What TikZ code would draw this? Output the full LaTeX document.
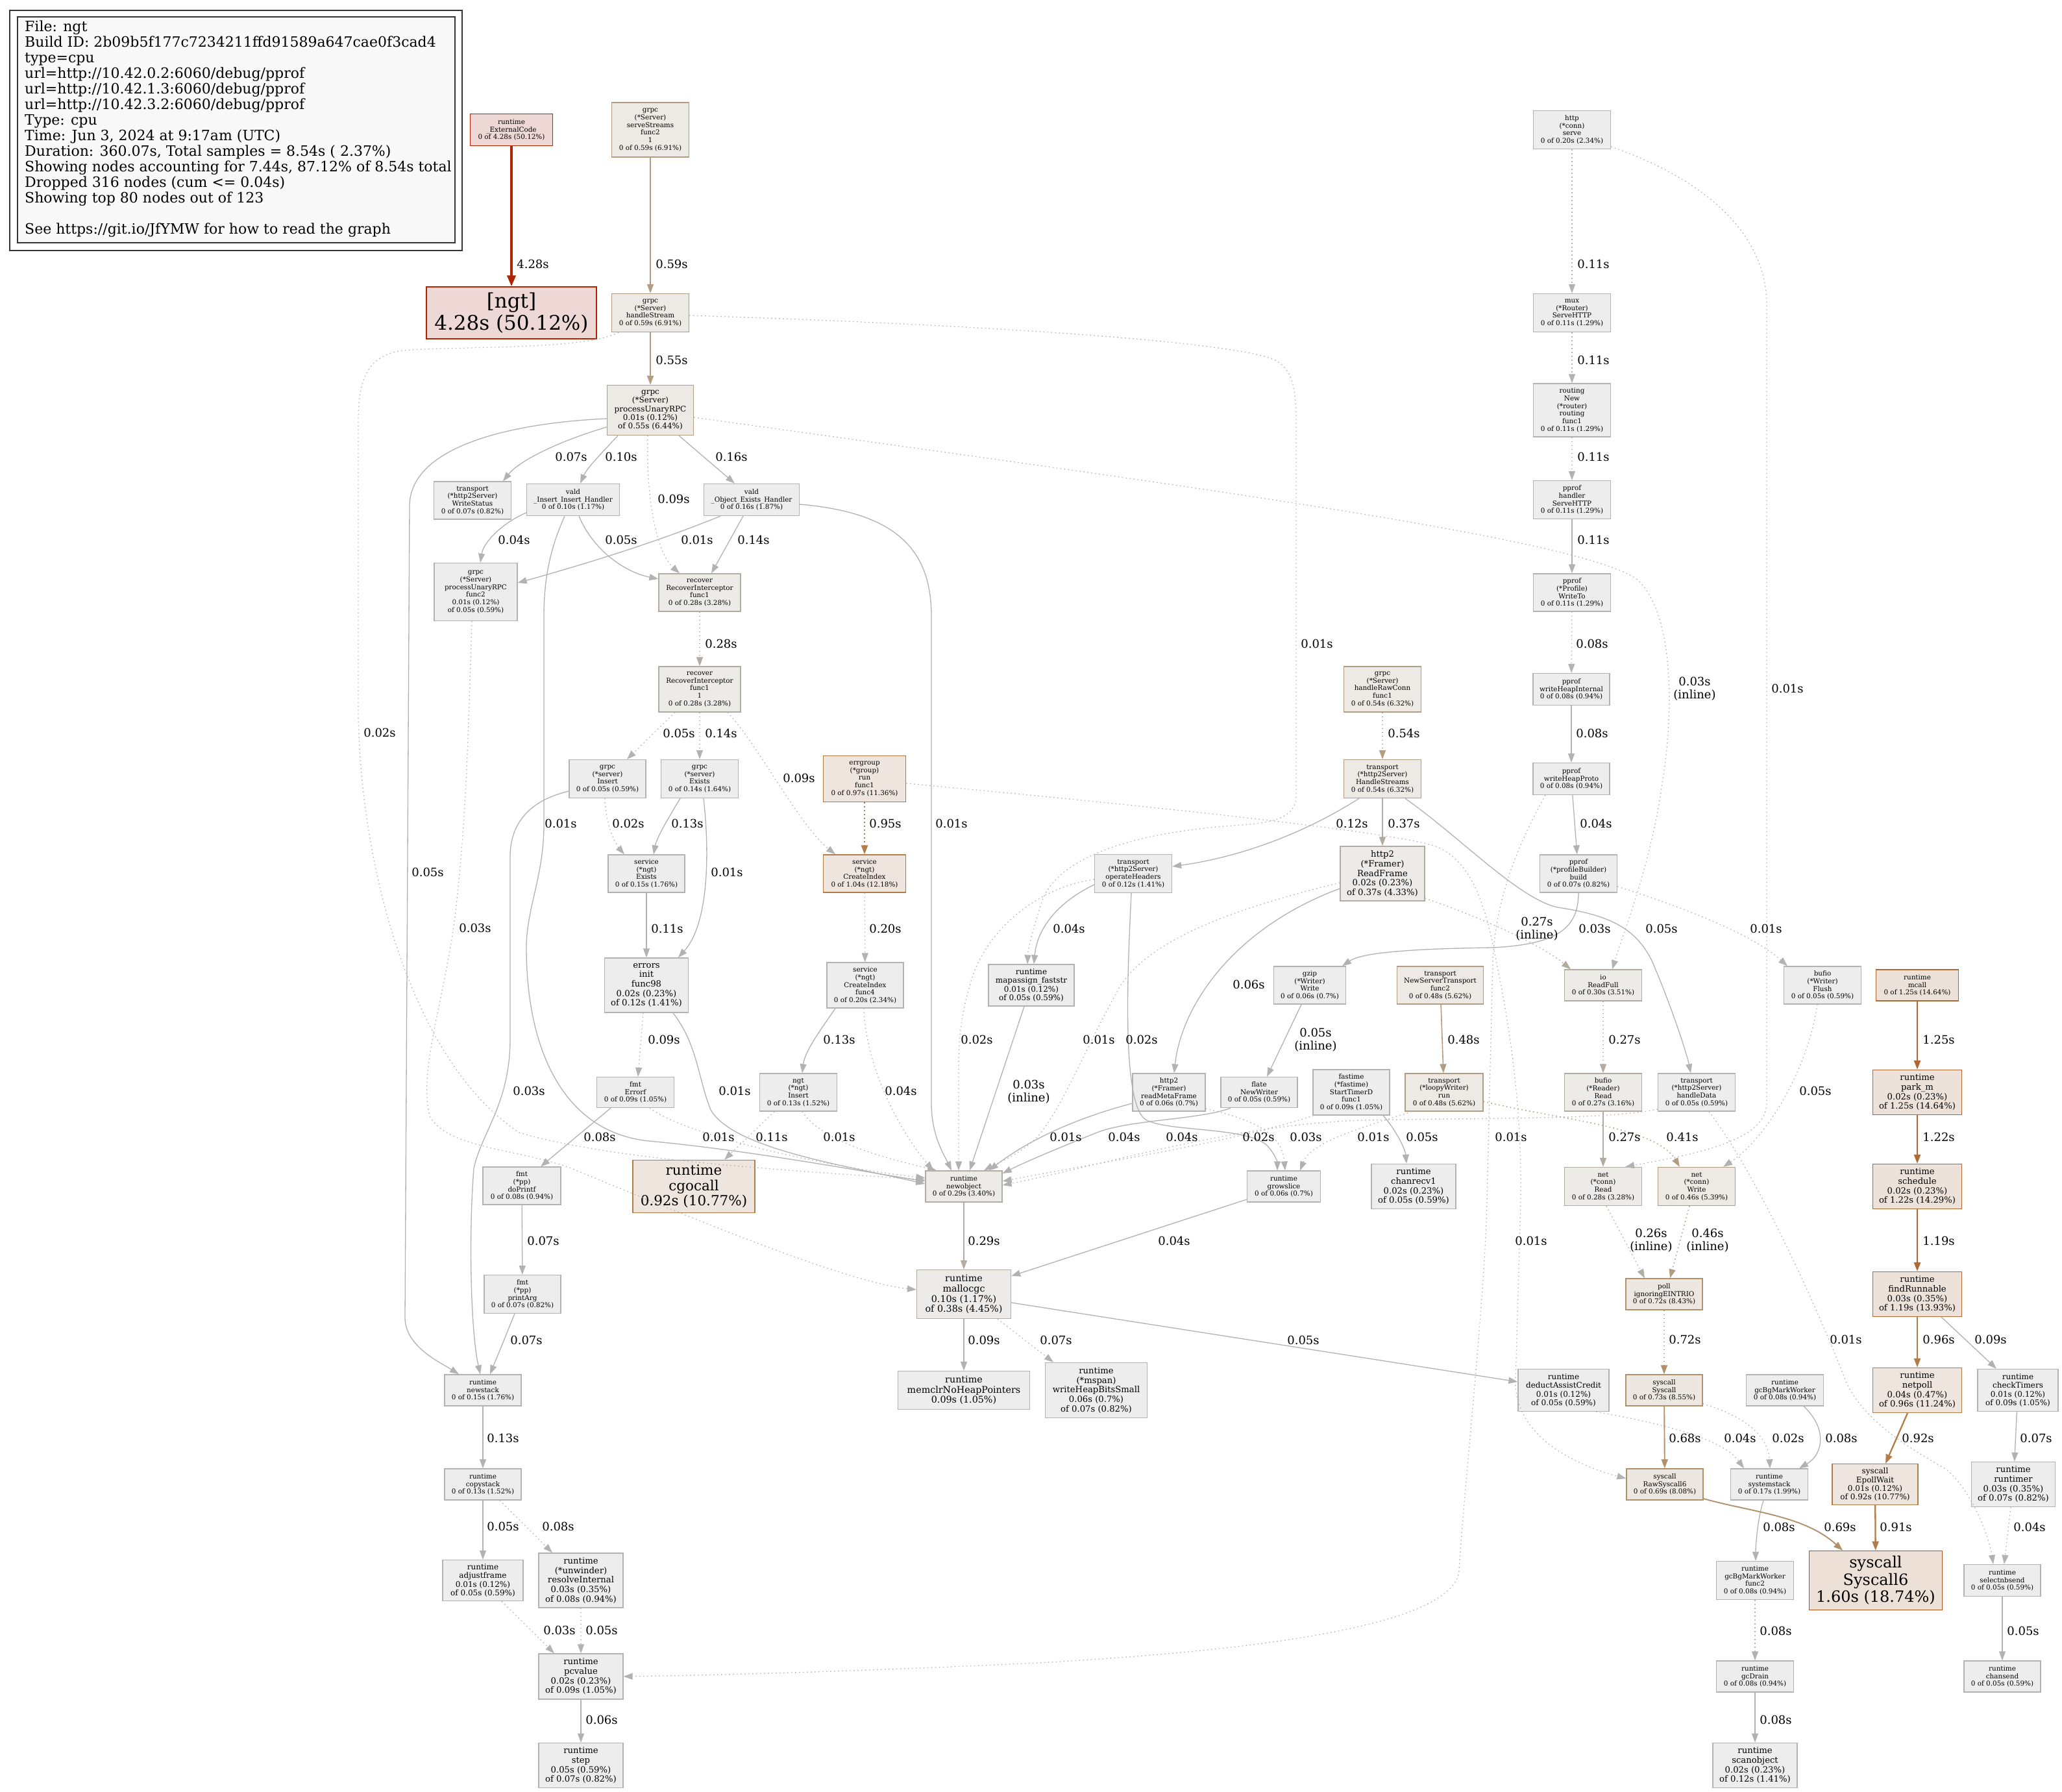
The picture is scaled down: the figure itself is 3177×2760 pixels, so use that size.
\documentclass[tikz,border=0pt]{standalone}
\usepackage{fontspec}
\setmainfont{DejaVu Serif}
\usetikzlibrary{arrows.meta}
\definecolor{c0}{HTML}{B2B2B2}\definecolor{f0}{HTML}{EDEDED}
\definecolor{c1}{HTML}{B2AB9F}\definecolor{f1}{HTML}{EDEBE8}
\definecolor{c2}{HTML}{B29D82}\definecolor{f2}{HTML}{EDE9E4}
\definecolor{c3}{HTML}{B2906C}\definecolor{f3}{HTML}{EDE7E1}
\definecolor{c4}{HTML}{B27C48}\definecolor{f4}{HTML}{EDE5DE}
\definecolor{c5}{HTML}{B26833}\definecolor{f5}{HTML}{EDE2D9}
\definecolor{c6}{HTML}{B2541A}\definecolor{f6}{HTML}{EDE0D7}
\definecolor{c7}{HTML}{B22300}\definecolor{f7}{HTML}{EDD8D5}
\definecolor{lgb}{HTML}{333333}\definecolor{lgf}{HTML}{F8F8F8}
\newcommand\pfA{\fontsize{10.4}{11.7}\selectfont}
\newcommand\pfB{\fontsize{12}{13.3}\selectfont}
\newcommand\pfC{\fontsize{13.2}{14.7}\selectfont}
\newcommand\pfD{\fontsize{14.3}{15.8}\selectfont}
\newcommand\pfE{\fontsize{21.5}{23.5}\selectfont}
\newcommand\pfF{\fontsize{24}{26.4}\selectfont}
\newcommand\pfG{\fontsize{31}{34}\selectfont}
\newcommand\pfL{\fontsize{22}{24}\selectfont}
\newcommand\pfT{\fontsize{18}{20.5}\selectfont}
\newcommand\pn[8]{\node[pbox,#6,minimum width=#4pt,minimum height=#5pt,font=#7] (#1) at (#2,#3) {#8};}
\newcommand\el[4]{\node[elab] (#1) at (#2,#3) {#4};}
\tikzset{
  pbox/.style={rectangle, align=center, inner sep=1pt, line width=1.3pt, text=black},
  n0/.style={draw=c0, fill=f0}, n1/.style={draw=c1, fill=f1}, n2/.style={draw=c2, fill=f2},
  n3/.style={draw=c3, fill=f3}, n4/.style={draw=c4, fill=f4}, n5/.style={draw=c5, fill=f5},
  n6/.style={draw=c6, fill=f6}, n7/.style={draw=c7, fill=f7},
  ea/.style={-{Triangle[length=14pt,width=10pt]}, line width=1.3pt},
  e0/.style={ea, draw=c0}, e1/.style={ea, draw=c1}, e2/.style={ea, draw=c2, line width=1.6pt},
  e3/.style={ea, draw=c3, line width=1.9pt}, e4/.style={ea, draw=c4, line width=2.3pt},
  e5/.style={ea, draw=c5, line width=2.7pt},
  eR/.style={-{Triangle[length=17pt,width=13pt]}, draw=c7, line width=4pt},
  dtd/.style={dash pattern=on 1.5pt off 4.5pt},
  elab/.style={font=\pfT, inner sep=0pt, align=center, text=black}
}
\begin{document}
\begin{tikzpicture}[x=1pt,y=-1pt]
\useasboundingbox (0,0) rectangle (3177,2760);
\fill[white] (0,0) rectangle (3177,2760);
% legend
\draw[lgb, line width=1.3pt] (15,16) rectangle (712,386);
\draw[lgb, line width=1.3pt, fill=lgf] (27,26) rectangle (701,374);
\node[anchor=north west, align=left, inner sep=0pt, font=\pfL] (legend) at (38,32) {File: ngt\\Build ID: 2b09b5f177c7234211ffd91589a647cae0f3cad4\\type=cpu\\url=http://10.42.0.2:6060/debug/pprof\\url=http://10.42.1.3:6060/debug/pprof\\url=http://10.42.3.2:6060/debug/pprof\\Type: cpu\\Time: Jun 3, 2024 at 9:17am (UTC)\\Duration: 360.07s, Total samples = 8.54s ( 2.37\%)\\Showing nodes accounting for 7.44s, 87.12\% of 8.54s total\\Dropped 316 nodes (cum <= 0.04s)\\Showing top 80 nodes out of 123\\[24pt]See https://git.io/JfYMW for how to read the graph};
% nodes
\pn{ext}{788}{200}{127}{49}{n7}{\pfA}{runtime\\\_ExternalCode\\0 of 4.28s (50.12\%)}
\pn{ngt}{788}{482}{262}{80}{n7}{\pfG}{[ngt]\\4.28s (50.12\%)}
\pn{serve}{1002}{200}{119}{84}{n2}{\pfA}{grpc\\(*Server)\\serveStreams\\func2\\1\\0 of 0.59s (6.91\%)}
\pn{hstream}{1002}{482}{119}{59}{n2}{\pfA}{grpc\\(*Server)\\handleStream\\0 of 0.59s (6.91\%)}
\pn{unary}{1002}{632}{133}{77}{n2}{\pfB}{grpc\\(*Server)\\processUnaryRPC\\0.01s (0.12\%)\\of 0.55s (6.44\%)}
\pn{wstatus}{728}{771}{119}{58}{n0}{\pfA}{transport\\(*http2Server)\\WriteStatus\\0 of 0.07s (0.82\%)}
\pn{vins}{883}{770}{143}{49}{n0}{\pfA}{vald\\\_Insert\_Insert\_Handler\\0 of 0.10s (1.17\%)}
\pn{vobj}{1158}{770}{147}{49}{n0}{\pfA}{vald\\\_Object\_Exists\_Handler\\0 of 0.16s (1.87\%)}
\pn{func2}{733}{912}{128}{89}{n0}{\pfA}{grpc\\(*Server)\\processUnaryRPC\\func2\\0.01s (0.12\%)\\of 0.05s (0.59\%)}
\pn{rec1}{1078}{913}{126}{58}{n1}{\pfA}{recover\\RecoverInterceptor\\func1\\0 of 0.28s (3.28\%)}
\pn{rec2}{1078}{1062}{126}{70}{n1}{\pfA}{recover\\RecoverInterceptor\\func1\\1\\0 of 0.28s (3.28\%)}
\pn{gins}{936}{1200}{118}{59}{n0}{\pfA}{grpc\\(*server)\\Insert\\0 of 0.05s (0.59\%)}
\pn{gex}{1078}{1200}{119}{59}{n0}{\pfA}{grpc\\(*server)\\Exists\\0 of 0.14s (1.64\%)}
\pn{errg}{1332}{1200}{127}{71}{n4}{\pfA}{errgroup\\(*group)\\run\\func1\\0 of 0.97s (11.36\%)}
\pn{sex}{996}{1346}{118}{58}{n0}{\pfA}{service\\(*ngt)\\Exists\\0 of 0.15s (1.76\%)}
\pn{cidx}{1332}{1346}{127}{58}{n4}{\pfA}{service\\(*ngt)\\CreateIndex\\0 of 1.04s (12.18\%)}
\pn{einit}{996}{1518}{129}{84}{n0}{\pfC}{errors\\init\\func98\\0.02s (0.23\%)\\of 0.12s (1.41\%)}
\pn{cidx4}{1333}{1518}{118}{70}{n0}{\pfA}{service\\(*ngt)\\CreateIndex\\func4\\0 of 0.20s (2.34\%)}
\pn{mapas}{1589}{1518}{132}{64}{n0}{\pfB}{runtime\\mapassign\_faststr\\0.01s (0.12\%)\\of 0.05s (0.59\%)}
\pn{errorf}{979}{1683}{119}{47}{n0}{\pfA}{fmt\\Errorf\\0 of 0.09s (1.05\%)}
\pn{ngtins}{1230}{1683}{119}{58}{n0}{\pfA}{ngt\\(*ngt)\\Insert\\0 of 0.13s (1.52\%)}
\pn{cgo}{1069}{1828}{188}{81}{n4}{\pfE}{runtime\\cgocall\\0.92s (10.77\%)}
\pn{newobj}{1485}{1828}{118}{48}{n1}{\pfA}{runtime\\newobject\\0 of 0.29s (3.40\%)}
\pn{doprintf}{804}{1827}{120}{58}{n0}{\pfA}{fmt\\(*pp)\\doPrintf\\0 of 0.08s (0.94\%)}
\pn{printarg}{805}{1994}{118}{59}{n0}{\pfA}{fmt\\(*pp)\\printArg\\0 of 0.07s (0.82\%)}
\pn{newstack}{744}{2142}{118}{48}{n0}{\pfA}{runtime\\newstack\\0 of 0.15s (1.76\%)}
\pn{copystack}{744}{2287}{118}{48}{n0}{\pfA}{runtime\\copystack\\0 of 0.13s (1.52\%)}
\pn{adjust}{744}{2435}{124}{63}{n0}{\pfB}{runtime\\adjustframe\\0.01s (0.12\%)\\of 0.05s (0.59\%)}
\pn{resolve}{895}{2435}{130}{84}{n0}{\pfC}{runtime\\(*unwinder)\\resolveInternal\\0.03s (0.35\%)\\of 0.08s (0.94\%)}
\pn{pcvalue}{895}{2583}{130}{70}{n0}{\pfC}{runtime\\pcvalue\\0.02s (0.23\%)\\of 0.09s (1.05\%)}
\pn{step}{895}{2720}{130}{69}{n0}{\pfC}{runtime\\step\\0.05s (0.59\%)\\of 0.07s (0.82\%)}
\pn{malloc}{1485}{1994}{145}{75}{n1}{\pfD}{runtime\\mallocgc\\0.10s (1.17\%)\\of 0.38s (4.45\%)}
\pn{memclr}{1485}{2142}{203}{59}{n0}{\pfD}{runtime\\memclrNoHeapPointers\\0.09s (1.05\%)}
\pn{whbs}{1689}{2142}{157}{85}{n0}{\pfC}{runtime\\(*mspan)\\writeHeapBitsSmall\\0.06s (0.7\%)\\of 0.07s (0.82\%)}
\pn{deduct}{2409}{2142}{140}{65}{n0}{\pfB}{runtime\\deductAssistCredit\\0.01s (0.12\%)\\of 0.05s (0.59\%)}
\pn{oph}{1746}{1346}{119}{59}{n0}{\pfA}{transport\\(*http2Server)\\operateHeaders\\0 of 0.12s (1.41\%)}
\pn{rawconn}{2130}{1062}{119}{70}{n2}{\pfA}{grpc\\(*Server)\\handleRawConn\\func1\\0 of 0.54s (6.32\%)}
\pn{hstreams}{2130}{1200}{119}{59}{n2}{\pfA}{transport\\(*http2Server)\\HandleStreams\\0 of 0.54s (6.32\%)}
\pn{rframe}{2130}{1346}{130}{84}{n1}{\pfC}{http2\\(*Framer)\\ReadFrame\\0.02s (0.23\%)\\of 0.37s (4.33\%)}
\pn{rmeta}{1801}{1683}{112}{58}{n0}{\pfA}{http2\\(*Framer)\\readMetaFrame\\0 of 0.06s (0.7\%)}
\pn{gzip}{2018}{1518}{111}{58}{n0}{\pfA}{gzip\\(*Writer)\\Write\\0 of 0.06s (0.7\%)}
\pn{flate}{1940}{1683}{118}{47}{n0}{\pfA}{flate\\NewWriter\\0 of 0.05s (0.59\%)}
\pn{fastime}{2082}{1683}{118}{70}{n0}{\pfA}{fastime\\(*fastime)\\StartTimerD\\func1\\0 of 0.09s (1.05\%)}
\pn{nst}{2219}{1518}{133}{58}{n2}{\pfA}{transport\\NewServerTransport\\func2\\0 of 0.48s (5.62\%)}
\pn{loopy}{2225}{1683}{120}{58}{n2}{\pfA}{transport\\(*loopyWriter)\\run\\0 of 0.48s (5.62\%)}
\pn{growslice}{1978}{1828}{113}{48}{n0}{\pfA}{runtime\\growslice\\0 of 0.06s (0.7\%)}
\pn{chanrecv}{2178}{1828}{130}{69}{n0}{\pfC}{runtime\\chanrecv1\\0.02s (0.23\%)\\of 0.05s (0.59\%)}
\pn{http}{2422}{200}{119}{59}{n0}{\pfA}{http\\(*conn)\\serve\\0 of 0.20s (2.34\%)}
\pn{mux}{2422}{482}{119}{59}{n0}{\pfA}{mux\\(*Router)\\ServeHTTP\\0 of 0.11s (1.29\%)}
\pn{routing}{2422}{632}{119}{82}{n0}{\pfA}{routing\\New\\(*router)\\routing\\func1\\0 of 0.11s (1.29\%)}
\pn{phandler}{2422}{770}{119}{59}{n0}{\pfA}{pprof\\handler\\ServeHTTP\\0 of 0.11s (1.29\%)}
\pn{writeto}{2422}{913}{119}{58}{n0}{\pfA}{pprof\\(*Profile)\\WriteTo\\0 of 0.11s (1.29\%)}
\pn{whi}{2421}{1062}{118}{49}{n0}{\pfA}{pprof\\writeHeapInternal\\0 of 0.08s (0.94\%)}
\pn{whp}{2421}{1200}{118}{49}{n0}{\pfA}{pprof\\writeHeapProto\\0 of 0.08s (0.94\%)}
\pn{build}{2432}{1346}{119}{58}{n0}{\pfA}{pprof\\(*profileBuilder)\\build\\0 of 0.07s (0.82\%)}
\pn{readfull}{2470}{1518}{119}{48}{n1}{\pfA}{io\\ReadFull\\0 of 0.30s (3.51\%)}
\pn{flush}{2808}{1518}{119}{58}{n0}{\pfA}{bufio\\(*Writer)\\Flush\\0 of 0.05s (0.59\%)}
\pn{mcall}{2954}{1518}{127}{48}{n5}{\pfA}{runtime\\mcall\\0 of 1.25s (14.64\%)}
\pn{bread}{2470}{1683}{119}{58}{n1}{\pfA}{bufio\\(*Reader)\\Read\\0 of 0.27s (3.16\%)}
\pn{hdata}{2614}{1683}{119}{58}{n0}{\pfA}{transport\\(*http2Server)\\handleData\\0 of 0.05s (0.59\%)}
\pn{parkm}{2954}{1683}{137}{69}{n5}{\pfC}{runtime\\park\_m\\0.02s (0.23\%)\\of 1.25s (14.64\%)}
\pn{nread}{2470}{1828}{119}{59}{n1}{\pfA}{net\\(*conn)\\Read\\0 of 0.28s (3.28\%)}
\pn{nwrite}{2614}{1828}{119}{59}{n2}{\pfA}{net\\(*conn)\\Write\\0 of 0.46s (5.39\%)}
\pn{sched}{2954}{1828}{137}{69}{n5}{\pfC}{runtime\\schedule\\0.02s (0.23\%)\\of 1.22s (14.29\%)}
\pn{poll}{2564}{1994}{118}{48}{n3}{\pfA}{poll\\ignoringEINTRIO\\0 of 0.72s (8.43\%)}
\pn{findr}{2954}{1994}{137}{69}{n5}{\pfC}{runtime\\findRunnable\\0.03s (0.35\%)\\of 1.19s (13.93\%)}
\pn{syscall}{2564}{2142}{118}{48}{n3}{\pfA}{syscall\\Syscall\\0 of 0.73s (8.55\%)}
\pn{gcbg}{2750}{2142}{119}{48}{n0}{\pfA}{runtime\\gcBgMarkWorker\\0 of 0.08s (0.94\%)}
\pn{netpoll}{2954}{2142}{137}{69}{n4}{\pfC}{runtime\\netpoll\\0.04s (0.47\%)\\of 0.96s (11.24\%)}
\pn{checkt}{3109}{2142}{124}{65}{n0}{\pfB}{runtime\\checkTimers\\0.01s (0.12\%)\\of 0.09s (1.05\%)}
\pn{raw6}{2565}{2287}{118}{48}{n3}{\pfA}{syscall\\RawSyscall6\\0 of 0.69s (8.08\%)}
\pn{sysstack}{2726}{2287}{119}{48}{n0}{\pfA}{runtime\\systemstack\\0 of 0.17s (1.99\%)}
\pn{epoll}{2889}{2287}{132}{63}{n4}{\pfB}{syscall\\EpollWait\\0.01s (0.12\%)\\of 0.92s (10.77\%)}
\pn{runtimer}{3102}{2287}{129}{69}{n0}{\pfC}{runtime\\runtimer\\0.03s (0.35\%)\\of 0.07s (0.82\%)}
\pn{gcf2}{2704}{2435}{119}{59}{n0}{\pfA}{runtime\\gcBgMarkWorker\\func2\\0 of 0.08s (0.94\%)}
\pn{sys6}{2890}{2435}{205}{91}{n6}{\pfF}{syscall\\Syscall6\\1.60s (18.74\%)}
\pn{selnb}{3085}{2435}{118}{49}{n0}{\pfA}{runtime\\selectnbsend\\0 of 0.05s (0.59\%)}
\pn{gcdrain}{2704}{2583}{119}{48}{n0}{\pfA}{runtime\\gcDrain\\0 of 0.08s (0.94\%)}
\pn{chansend}{3085}{2583}{118}{48}{n0}{\pfA}{runtime\\chansend\\0 of 0.05s (0.59\%)}
\pn{scanobj}{2704}{2720}{130}{69}{n0}{\pfC}{runtime\\scanobject\\0.02s (0.23\%)\\of 0.12s (1.41\%)}
% ---------- edges ----------
\draw[eR] (ext) -- (ngt);
\draw[e2] (serve) -- (hstream);
\draw[e2] (hstream) -- (unary);
\draw[e0] ([yshift=-26pt]unary.west) .. controls (860,680) and (800,710) .. ([xshift=47pt]wstatus.north);
\draw[e0] ([yshift=-13pt]unary.west) .. controls (780,652) and (631,690) .. (631,780) -- (624,2030) .. controls (624,2075) and (680,2100) .. ([xshift=-37pt]newstack.north);
\draw[e0] ([xshift=-50pt]unary.south) .. controls (930,695) and (905,720) .. ([xshift=11pt]vins.north);
\draw[e0,dtd] ([xshift=-4pt]unary.south) .. controls (995,760) and (1010,850) .. ([xshift=-31pt]rec1.north);
\draw[e0] ([xshift=44pt]unary.south) -- ([xshift=-26pt]vobj.north);
\draw[e0,dtd] ([yshift=-11pt]unary.east) .. controls (1800,745) and (2450,830) .. (2525,895) .. controls (2580,950) and (2578,1100) .. (2562,1200) .. controls (2545,1330) and (2500,1440) .. ([xshift=14pt]readfull.north);
\draw[e0,dtd] ([xshift=-49pt]hstream.south) .. controls (900,540) and (700,533) .. (620,540) .. controls (565,548) and (552,585) .. (552,650) -- (552,1100) .. controls (556,1350) and (640,1640) .. (800,1745) .. controls (950,1790) and (1250,1805) .. ([yshift=10pt]newobj.west);
\draw[e0,dtd] ([yshift=-4pt]hstream.east) .. controls (1500,500) and (1900,525) .. (1965,555) .. controls (1992,570) and (1997,600) .. (1997,650) -- (1997,1225) .. controls (1997,1262) and (1960,1268) .. (1900,1272) .. controls (1720,1285) and (1625,1330) .. (1605,1390) .. controls (1592,1430) and (1584,1460) .. ([xshift=-6pt]mapas.north);
\draw[e0] ([yshift=-20pt]vins.west) .. controls (775,805) and (745,835) .. ([xshift=7pt]func2.north);
\draw[e0] ([xshift=-48pt]vobj.south) .. controls (1000,840) and (880,875) .. ([yshift=14pt]func2.east);
\draw[e0] ([xshift=9pt]vins.south) .. controls (915,850) and (965,882) .. ([yshift=21pt]rec1.west);
\draw[e0] ([xshift=-13pt]vobj.south) -- ([xshift=18pt]rec1.north);
\draw[e0] ([yshift=-7pt]vobj.east) .. controls (1385,790) and (1435,850) .. (1435,950) -- (1435,1700) .. controls (1435,1750) and (1455,1780) .. ([xshift=-19pt]newobj.north);
\draw[e0] ([xshift=-13pt]vins.south) .. controls (850,840) and (838,885) .. (838,950) -- (838,1270) .. controls (838,1350) and (811,1400) .. (811,1460) .. controls (811,1620) and (870,1745) .. (1000,1758) .. controls (1150,1772) and (1300,1800) .. ([yshift=8pt]newobj.west);
\draw[e0,dtd] ([xshift=-6pt]func2.south) .. controls (722,1100) and (720,1260) .. (700,1420) .. controls (682,1550) and (645,1650) .. (662,1720) .. controls (690,1770) and (800,1770) .. (880,1800) .. controls (1050,1870) and (1300,1975) .. ([yshift=7pt]malloc.west);
\draw[e1,dtd] (rec1) -- (rec2);
\draw[e0,dtd] ([xshift=-38pt]rec2.south) -- ([xshift=30pt]gins.north);
\draw[e0,dtd] (rec2) -- (gex);
\draw[e0,dtd] ([xshift=43pt]rec2.south) .. controls (1170,1150) and (1230,1270) .. ([xshift=-45pt]cidx.north);
\draw[e4,dtd] (errg) -- (cidx);
\draw[e0,dtd] ([yshift=-7pt]errg.east) .. controls (1700,1235) and (2150,1280) .. (2215,1305) .. controls (2270,1330) and (2290,1400) .. (2305,1480) .. controls (2330,1600) and (2345,1720) .. (2343,1850) -- (2335,2130) .. controls (2335,2210) and (2420,2255) .. ([yshift=9pt]raw6.west);
\draw[e0,dtd] ([xshift=-40pt]whp.south) .. controls (2340,1300) and (2305,1380) .. (2300,1480) -- (2291,1850) .. controls (2288,2000) and (2255,2300) .. (2248,2420) .. controls (2240,2510) and (1900,2545) .. (1600,2562) .. controls (1300,2576) and (1100,2581) .. (pcvalue.east);
\draw[e0,dtd] ([xshift=-4pt]gins.south) .. controls (933,1270) and (948,1300) .. ([xshift=-34pt]sex.north);
\draw[e0] ([yshift=-19pt]gins.west) .. controls (820,1232) and (786,1265) .. (786,1320) -- (786,1600) .. controls (786,1700) and (742,1745) .. (730,1800) .. controls (722,1900) and (725,2050) .. ([xshift=-4pt]newstack.north);
\draw[e0] ([xshift=-30pt]gex.south) .. controls (1030,1260) and (1012,1290) .. ([xshift=11pt]sex.north);
\draw[e0] ([xshift=6pt]gex.south) .. controls (1092,1300) and (1095,1420) .. ([xshift=49pt]einit.north);
\draw[e0] (sex) -- (einit);
\draw[e0,dtd] (cidx) -- (cidx4);
\draw[e0,dtd] ([xshift=-5pt]einit.south) -- ([xshift=4pt]errorf.north);
\draw[e0] ([xshift=41pt]einit.south) .. controls (1075,1610) and (1075,1660) .. (1095,1710) .. controls (1130,1770) and (1300,1795) .. ([yshift=4pt]newobj.west);
\draw[e0] ([xshift=-46pt]cidx4.south) .. controls (1262,1590) and (1240,1620) .. ([xshift=6pt]ngtins.north);
\draw[e0,dtd] ([xshift=-2pt]cidx4.south) .. controls (1335,1660) and (1400,1760) .. ([xshift=-47pt]newobj.north);
\draw[e0] ([xshift=-11pt]mapas.south) -- ([xshift=9pt]newobj.north);
\draw[e0] ([xshift=-38pt]errorf.south) -- ([xshift=29pt]doprintf.north);
\draw[e0,dtd] ([xshift=22pt]errorf.south) .. controls (1050,1745) and (1250,1795) .. ([yshift=13pt]newobj.west);
\draw[e0,dtd] ([xshift=-37pt]ngtins.south) -- ([xshift=47pt]cgo.north);
\draw[e0,dtd] ([xshift=6pt]ngtins.south) .. controls (1270,1765) and (1390,1790) .. ([xshift=-42pt]newobj.north);
\draw[e0] (doprintf) -- (printarg);
\draw[e0] ([xshift=-12pt]printarg.south) -- ([xshift=11pt]newstack.north);
\draw[e0] (newstack) -- (copystack);
\draw[e0] (copystack) -- (adjust);
\draw[e0,dtd] ([xshift=26pt]copystack.south) -- ([xshift=-44pt]resolve.north);
\draw[e0,dtd] ([xshift=29pt]adjust.south) -- ([xshift=-41pt]pcvalue.north);
\draw[e0,dtd] (resolve) -- (pcvalue);
\draw[e0] (pcvalue) -- (step);
\draw[e1] (newobj) -- (malloc);
\draw[e0] (malloc) -- (memclr);
\draw[e0,dtd] ([xshift=52pt]malloc.south) -- ([xshift=-66pt]whbs.north);
\draw[e0] ([yshift=-13pt]malloc.east) -- ([yshift=13pt]deduct.west);
\draw[e0] ([yshift=-20pt]growslice.west) -- ([yshift=28pt]malloc.east);
\draw[e0,dtd] ([xshift=50pt]deduct.south) .. controls (2600,2200) and (2660,2225) .. ([xshift=-39pt]sysstack.north);
\draw[e0,dtd] ([yshift=-21pt]syscall.east) .. controls (2700,2185) and (2725,2220) .. ([xshift=1pt]sysstack.north);
\draw[e0] ([xshift=29pt]gcbg.south) .. controls (2815,2200) and (2810,2240) .. ([xshift=46pt]sysstack.north);
\draw[e0] ([xshift=-9pt]sysstack.south) .. controls (2708,2340) and (2705,2380) .. ([xshift=1pt]gcf2.north);
\draw[e0,dtd] (gcf2) -- (gcdrain);
\draw[e0] (gcdrain) -- (scanobj);
\draw[e3] ([yshift=-22pt]raw6.east) .. controls (2700,2330) and (2780,2335) .. ([xshift=-51pt]sys6.north);
\draw[e4] (epoll) -- (sys6);
\draw[e4] ([xshift=-15pt]netpoll.south) -- ([xshift=16pt]epoll.north);
\draw[e4] (findr) -- (netpoll);
\draw[e0] ([xshift=37pt]findr.south) -- ([xshift=-33pt]checkt.north);
\draw[e0] (checkt) -- (runtimer);
\draw[e0,dtd] (runtimer) -- (selnb);
\draw[e0] (selnb) -- (chansend);
\draw[e5] (mcall) -- (parkm);
\draw[e5] (parkm) -- (sched);
\draw[e5] (sched) -- (findr);
\draw[e3,dtd] (poll) -- (syscall);
\draw[e3] (syscall) -- (raw6);
\draw[e1,dtd] ([xshift=5pt]nread.south) -- ([xshift=-30pt]poll.north);
\draw[e2,dtd] ([xshift=-11pt]nwrite.south) -- ([xshift=9pt]poll.north);
\draw[e1] (bread) -- (nread);
\draw[e1,dtd] (readfull) -- (bread);
\draw[e0,dtd] (writeto) -- (whi);
\draw[e0] (whi) -- (whp);
\draw[e0] (whp) -- (build);
\draw[e0,dtd] (http) -- (mux);
\draw[e0,dtd] (mux) -- (routing);
\draw[e0,dtd] (routing) -- (phandler);
\draw[e0] (phandler) -- (writeto);
\draw[e0,dtd] ([yshift=-26pt]http.east) .. controls (2610,270) and (2722,350) .. (2722,470) -- (2722,1700) .. controls (2722,1760) and (2600,1780) .. ([xshift=34pt]nread.north);
\draw[e2,dtd] (rawconn) -- (hstreams);
\draw[e0] ([xshift=-36pt]hstreams.south) .. controls (2000,1290) and (1900,1322) .. ([yshift=11pt]oph.east);
\draw[e1] (hstreams) -- (rframe);
\draw[e0] ([xshift=35pt]hstreams.south) .. controls (2250,1290) and (2340,1385) .. (2400,1398) .. controls (2480,1410) and (2520,1430) .. (2545,1480) .. controls (2575,1550) and (2598,1620) .. ([xshift=-9pt]hdata.north);
\draw[e1,dtd] ([yshift=-38pt]rframe.east) .. controls (2300,1420) and (2380,1460) .. ([xshift=-50pt]readfull.north);
\draw[e0] ([yshift=-23pt]rframe.west) .. controls (1900,1430) and (1820,1550) .. ([xshift=8pt]rmeta.north);
\draw[e0,dtd] ([yshift=-14pt]rframe.west) .. controls (1900,1400) and (1760,1450) .. (1720,1530) .. controls (1670,1620) and (1640,1700) .. (1600,1750) .. controls (1570,1780) and (1540,1790) .. ([xshift=31pt]newobj.north);
\draw[e0] ([yshift=-17pt]oph.west) .. controls (1630,1390) and (1598,1430) .. ([xshift=4pt]mapas.north);
\draw[e0,dtd] ([yshift=-9pt]oph.west) .. controls (1610,1365) and (1530,1420) .. (1500,1500) .. controls (1480,1560) and (1477,1600) .. (1477,1650) -- ([xshift=-8pt]newobj.north);
\draw[e0] ([xshift=-3pt]oph.south) .. controls (1737,1500) and (1728,1700) .. (1765,1725) .. controls (1800,1745) and (1930,1735) .. (1955,1768) .. controls (1965,1780) and (1968,1790) .. ([xshift=-10pt]growslice.north);
\draw[e0] ([yshift=-17pt]rmeta.west) .. controls (1650,1725) and (1580,1760) .. ([xshift=39pt]newobj.north);
\draw[e0] ([xshift=-44pt]flate.south) .. controls (1850,1725) and (1740,1725) .. (1690,1745) .. controls (1640,1765) and (1580,1790) .. ([yshift=20pt]newobj.east);
\draw[e0,dtd] ([yshift=-25pt]rmeta.east) .. controls (1930,1725) and (1975,1745) .. ([xshift=2pt]growslice.north);
\draw[e0,dtd] ([xshift=-50pt]loopy.south) .. controls (2090,1740) and (2020,1760) .. ([xshift=25pt]growslice.north);
\draw[e0,dtd] ([xshift=-58pt]fastime.south) .. controls (1900,1760) and (1700,1790) .. ([yshift=8pt]newobj.east);
\draw[e0,dtd] ([yshift=-26pt]hdata.west) .. controls (2480,1725) and (2300,1722) .. (2100,1726) .. controls (1900,1732) and (1700,1795) .. ([yshift=2pt]newobj.east);
\draw[e0] ([xshift=49pt]fastime.south) .. controls (2150,1740) and (2165,1770) .. ([xshift=-11pt]chanrecv.north);
\draw[e2,dtd] ([yshift=-14pt]loopy.east) .. controls (2400,1725) and (2550,1735) .. ([xshift=-26pt]nwrite.north);
\draw[e2] (nst) -- (loopy);
\draw[e0] ([xshift=-13pt]gzip.south) -- ([xshift=12pt]flate.north);
\draw[e0] (build.south) .. controls (2432,1430) and (2400,1455) .. (2300,1460) .. controls (2150,1462) and (2095,1470) .. ([xshift=50pt]gzip.north);
\draw[e0,dtd] ([yshift=-20pt]build.east) .. controls (2600,1400) and (2700,1440) .. ([xshift=-54pt]flush.north);
\draw[e0,dtd] ([xshift=-8pt]flush.south) .. controls (2785,1650) and (2720,1755) .. ([xshift=41pt]nwrite.north);
\draw[e0,dtd] ([xshift=19pt]hdata.south) .. controls (2700,1800) and (2790,1990) .. (2846,2133) .. controls (2880,2200) and (2960,2240) .. (3000,2265) .. controls (3040,2300) and (3065,2370) .. ([xshift=-14pt]selnb.north);
% ---------- edge labels ----------
\el{l1}{821}{407}{4.28s}
\el{l2}{1035}{407}{0.59s}
\el{l3}{1035}{555}{0.55s}
\el{l4}{880}{704}{0.07s}
\el{l5}{957}{704}{0.10s}
\el{l6}{1038}{769}{0.09s}
\el{l7}{1127}{704}{0.16s}
\el{l8}{792}{832}{0.04s}
\el{l9}{957}{832}{0.05s}
\el{l10}{1074}{832}{0.01s}
\el{l11}{1161}{832}{0.14s}
\el{l12}{585}{1129}{0.02s}
\el{l13}{659}{1344}{0.05s}
\el{l14}{732}{1430}{0.03s}
\el{l15}{1111}{992}{0.28s}
\el{l16}{1046}{1130}{0.05s}
\el{l17}{1111}{1130}{0.14s}
\el{l18}{1231}{1199}{0.09s}
\el{l19}{864}{1269}{0.01s}
\el{l20}{968}{1269}{0.02s}
\el{l21}{1059}{1269}{0.13s}
\el{l22}{1364}{1269}{0.95s}
\el{l23}{1466}{1269}{0.01s}
\el{l24}{1120}{1344}{0.01s}
\el{l25}{1028}{1431}{0.11s}
\el{l26}{1364}{1431}{0.20s}
\el{l27}{1023}{1602}{0.09s}
\el{l28}{1293}{1602}{0.13s}
\el{l29}{1505}{1602}{0.02s}
\el{l30}{815}{1681}{0.03s}
\el{l31}{1132}{1681}{0.01s}
\el{l32}{1388}{1681}{0.04s}
\el{l33}{1585}{1682}{0.03s\\(inline)}
\el{l34}{924}{1752}{0.08s}
\el{l35}{1107}{1752}{0.01s}
\el{l36}{1189}{1752}{0.11s}
\el{l37}{1293}{1752}{0.01s}
\el{l38}{837}{1912}{0.07s}
\el{l39}{811}{2065}{0.07s}
\el{l40}{775}{2216}{0.13s}
\el{l41}{775}{2352}{0.05s}
\el{l42}{860}{2352}{0.08s}
\el{l43}{862}{2512}{0.03s}
\el{l44}{927}{2512}{0.05s}
\el{l45}{927}{2650}{0.06s}
\el{l46}{1516}{1912}{0.29s}
\el{l47}{1516}{2065}{0.09s}
\el{l48}{1627}{2065}{0.07s}
\el{l49}{2008}{2065}{0.05s}
\el{l50}{1809}{1912}{0.04s}
\el{l51}{2359}{1912}{0.01s}
\el{l52}{2029}{992}{0.01s}
\el{l53}{2163}{1130}{0.54s}
\el{l54}{2083}{1269}{0.12s}
\el{l55}{2163}{1269}{0.37s}
\el{l56}{1647}{1431}{0.04s}
\el{l57}{2368}{1431}{0.27s\\(inline)}
\el{l58}{1924}{1517}{0.06s}
\el{l59}{1693}{1602}{0.01s}
\el{l60}{1759}{1602}{0.02s}
\el{l61}{2027}{1602}{0.05s\\(inline)}
\el{l62}{2255}{1602}{0.48s}
\el{l63}{1642}{1752}{0.01s}
\el{l64}{1732}{1752}{0.04s}
\el{l65}{1821}{1752}{0.04s}
\el{l66}{1939}{1752}{0.02s}
\el{l67}{2012}{1752}{0.03s}
\el{l68}{2116}{1752}{0.01s}
\el{l69}{2191}{1752}{0.05s}
\el{l70}{2328}{1752}{0.01s}
\el{l71}{2455}{407}{0.11s}
\el{l72}{2455}{555}{0.11s}
\el{l73}{2455}{704}{0.11s}
\el{l74}{2455}{832}{0.11s}
\el{l75}{2453}{992}{0.08s}
\el{l76}{2453}{1130}{0.08s}
\el{l77}{2459}{1269}{0.04s}
\el{l78}{2611}{1061}{0.03s\\(inline)}
\el{l79}{2754}{1061}{0.01s}
\el{l80}{2457}{1431}{0.03s}
\el{l81}{2560}{1431}{0.05s}
\el{l82}{2721}{1431}{0.01s}
\el{l83}{2503}{1602}{0.27s}
\el{l84}{2987}{1602}{1.25s}
\el{l85}{2797}{1681}{0.05s}
\el{l86}{2503}{1752}{0.27s}
\el{l87}{2592}{1752}{0.41s}
\el{l88}{2987}{1752}{1.22s}
\el{l89}{2544}{1911}{0.26s\\(inline)}
\el{l90}{2631}{1911}{0.46s\\(inline)}
\el{l91}{2987}{1912}{1.19s}
\el{l92}{2596}{2064}{0.72s}
\el{l93}{2844}{2064}{0.01s}
\el{l94}{2987}{2064}{0.96s}
\el{l95}{3067}{2064}{0.09s}
\el{l96}{2596}{2216}{0.68s}
\el{l97}{2681}{2216}{0.04s}
\el{l98}{2755}{2216}{0.02s}
\el{l99}{2837}{2216}{0.08s}
\el{l100}{2955}{2216}{0.92s}
\el{l101}{3137}{2216}{0.07s}
\el{l102}{2741}{2353}{0.08s}
\el{l103}{2835}{2353}{0.69s}
\el{l104}{2921}{2353}{0.91s}
\el{l105}{3127}{2353}{0.04s}
\el{l106}{2736}{2513}{0.08s}
\el{l107}{3117}{2513}{0.05s}
\el{l108}{2736}{2650}{0.08s}
\end{tikzpicture}
\end{document}
